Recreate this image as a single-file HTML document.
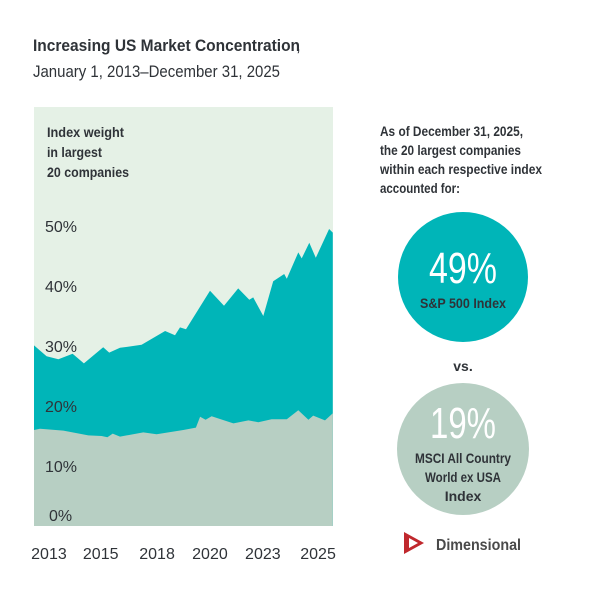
<!DOCTYPE html>
<html><head><meta charset="utf-8"><style>
body{margin:0;background:#fff;width:600px;height:600px;overflow:hidden}
svg text{font-family:"Liberation Sans Narrow","Liberation Sans",sans-serif;fill:#2f3338}
</style></head><body>
<svg width="600" height="600" viewBox="0 0 600 600">
<text x="33" y="51" font-size="17" font-weight="bold" textLength="267" lengthAdjust="spacingAndGlyphs">Increasing US Market Concentration</text>
<text x="296" y="51" font-size="17">,</text>
<text x="33" y="77" font-size="17" textLength="247" lengthAdjust="spacingAndGlyphs">January 1, 2013–December 31, 2025</text>
<rect x="34" y="107" width="299" height="419" fill="#e5f1e6"/>
<g id="areas"></g>
<text x="47" y="137" font-size="14" font-weight="bold" textLength="77" lengthAdjust="spacingAndGlyphs">Index weight</text>
<text x="47" y="157" font-size="14" font-weight="bold" textLength="55" lengthAdjust="spacingAndGlyphs">in largest</text>
<text x="47" y="177" font-size="14" font-weight="bold" textLength="82" lengthAdjust="spacingAndGlyphs">20 companies</text>
<g id="yticks"></g>
<g id="xticks"></g>
<text x="380" y="136" font-size="14" font-weight="bold" textLength="143" lengthAdjust="spacingAndGlyphs">As of December 31, 2025,</text>
<text x="380" y="155" font-size="14" font-weight="bold" textLength="141" lengthAdjust="spacingAndGlyphs">the 20 largest companies</text>
<text x="380" y="174" font-size="14" font-weight="bold" textLength="162" lengthAdjust="spacingAndGlyphs">within each respective index</text>
<text x="380" y="193" font-size="14" font-weight="bold" textLength="80" lengthAdjust="spacingAndGlyphs">accounted for:</text>
<circle cx="463" cy="277" r="65" fill="#00b5b8"/>
<text x="463" y="283" font-size="44" text-anchor="middle" textLength="68" lengthAdjust="spacingAndGlyphs" style="fill:#fff">49%</text>
<text x="463" y="308" font-size="14" font-weight="bold" text-anchor="middle" textLength="86" lengthAdjust="spacingAndGlyphs">S&amp;P 500 Index</text>
<text x="463" y="371" font-size="14" font-weight="bold" text-anchor="middle">vs.</text>
<circle cx="463" cy="449" r="66" fill="#b7cfc3"/>
<text x="463" y="438" font-size="44" text-anchor="middle" textLength="66" lengthAdjust="spacingAndGlyphs" style="fill:#fff">19%</text>
<text x="463" y="463" font-size="14" font-weight="bold" text-anchor="middle" textLength="96" lengthAdjust="spacingAndGlyphs">MSCI All Country</text>
<text x="463" y="482" font-size="14" font-weight="bold" text-anchor="middle" textLength="76" lengthAdjust="spacingAndGlyphs">World ex USA</text>
<text x="463" y="501" font-size="14" font-weight="bold" text-anchor="middle">Index</text>
<g>
<path d="M404 532 L424 543 L404 554 Z M409 538 L409 548 L418 543 Z" fill="#c0282d" fill-rule="evenodd"/>
<text x="436" y="550" font-size="16" font-weight="bold" textLength="85" lengthAdjust="spacingAndGlyphs" style="fill:#4a4a4a">Dimensional</text>
</g>
</svg>
<script>
const spDates=[2013.00,2013.55,2014.06,2014.68,2015.17,2016.01,2016.27,2016.74,2017.68,2018.70,2019.13,2019.35,2019.61,2020.65,2021.26,2021.88,2022.36,2022.53,2022.97,2023.40,2023.88,2023.99,2024.49,2024.64,2024.97,2025.25,2025.83,2025.99];
const spValues=[30.1,28.3,27.8,28.7,27.1,29.8,28.9,29.7,30.2,32.5,31.8,33.1,32.8,39.2,36.7,39.6,37.7,38.1,35.0,40.8,42.0,41.2,45.6,44.6,47.2,44.7,49.5,48.9];
const msciDates=[2013.00,2013.26,2014.28,2015.36,2015.94,2016.19,2016.42,2016.74,2017.75,2018.33,2019.49,2020.04,2020.22,2020.46,2020.72,2021.67,2022.32,2022.75,2023.33,2023.99,2024.49,2024.93,2025.14,2025.65,2025.99];
const msciValues=[16.0,16.2,15.9,15.1,15.0,14.8,15.4,14.9,15.6,15.3,16.0,16.4,18.2,17.7,18.3,17.1,17.6,17.3,17.8,17.8,19.3,17.7,18.4,17.6,18.8];
const yTicks=[0,10,20,30,40,50];
const xTickYears=[2013,2015,2018,2020,2023,2025];
const xTickPos=[2013.65,2015.9,2018.35,2020.65,2022.95,2025.35];
const X=t=>34+(t-2013)*23;
const Y=v=>526-6*v;
const NS="http://www.w3.org/2000/svg";
function area(d,v,fill,name){
  let p=`M${X(d[0])},526`;
  d.forEach((t,i)=>p+=` L${X(t).toFixed(1)},${Y(v[i]).toFixed(1)}`);
  p+=` L${X(d[d.length-1])},526 Z`;
  const el=document.createElementNS(NS,"path");
  el.setAttribute("d",p);el.setAttribute("fill",fill);
  
  
  document.getElementById("areas").appendChild(el);
}
area(spDates,spValues,"#00b5b8","sp500-area");
area(msciDates,msciValues,"#b7cfc3","msci-area");
yTicks.forEach(v=>{
  const t=document.createElementNS(NS,"text");
  t.setAttribute("x",v===0?49:45);t.setAttribute("y",Y(v)+(v===0?-5:6));
  t.setAttribute("font-size","16");t.textContent=v+"%";
  
  
  document.getElementById("yticks").appendChild(t);
});
xTickYears.forEach((yr,i)=>{
  const t=document.createElementNS(NS,"text");
  t.setAttribute("x",X(xTickPos[i]));t.setAttribute("y",559);
  t.setAttribute("font-size","16");t.setAttribute("text-anchor","middle");t.textContent=yr;
  
  
  document.getElementById("xticks").appendChild(t);
});
</script>
</body></html>
